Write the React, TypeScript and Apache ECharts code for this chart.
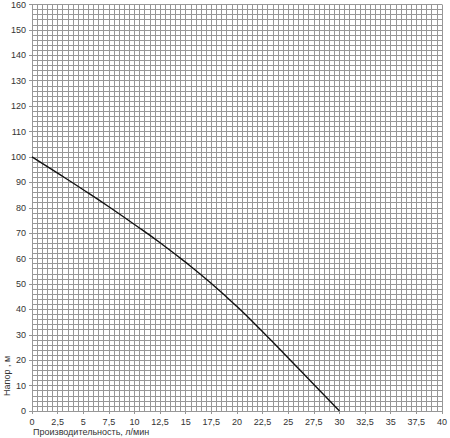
import React, { useEffect, useRef } from 'react'
import * as echarts from 'echarts'

// Pump curve: flow (l/min) vs head (m)
const flow = [0, 2.5, 5, 7.5, 10, 12.5, 15, 17.5, 20, 22.5, 25, 27.5, 30]
const head = [100, 93.6, 87.1, 80.4, 73.4, 66.2, 58.5, 50.2, 41.1, 31.2, 20.9, 10.4, 0]

const xLabel = 'Производительность, л/мин'
const yLabel = 'Напор , м'

const gridColor = '#979797'
const font = '"Liberation Sans", Arial, sans-serif'

const App: React.FC = () => {
  const chartRef = useRef<HTMLDivElement>(null)

  useEffect(() => {
    document.body.style.margin = '0'
    if (!chartRef.current) return
    const chart = echarts.init(chartRef.current, undefined, { renderer: 'svg' })

    const option: echarts.EChartsOption = {
      animation: false,
      backgroundColor: '#fff',
      grid: { left: 32, right: 3, top: 3, bottom: 27 },
      xAxis: {
        type: 'value',
        min: 0,
        max: 40,
        interval: 2.5,
        axisLine: { show: false },
        axisTick: { show: true, length: 3, lineStyle: { color: gridColor } },
        axisLabel: {
          color: '#333',
          fontSize: 9,
          fontFamily: font,
          margin: 6,
          formatter: (v: number) => String(v).replace('.', ','),
        },
        splitLine: { show: true, lineStyle: { color: gridColor, width: 1 } },
        minorTick: { show: false, splitNumber: 5 },
        minorSplitLine: { show: true, lineStyle: { color: gridColor, width: 1 } },
      },
      yAxis: {
        type: 'value',
        min: 0,
        max: 160,
        interval: 10,
        axisLine: { show: false },
        axisTick: { show: true, length: 3, lineStyle: { color: gridColor } },
        axisLabel: { color: '#333', fontSize: 9, fontFamily: font, margin: 6 },
        splitLine: { show: true, lineStyle: { color: gridColor, width: 1 } },
        minorTick: { show: false, splitNumber: 5 },
        minorSplitLine: { show: true, lineStyle: { color: gridColor, width: 1 } },
      },
      graphic: [
        {
          type: 'text',
          left: 33,
          top: 427,
          style: { text: xLabel, fill: '#333', fontSize: 9, fontFamily: font },
        },
        {
          type: 'text',
          x: 2,
          y: 396,
          rotation: Math.PI / 2,
          style: { text: yLabel, fill: '#333', fontSize: 9, fontFamily: font },
        },
      ],
      series: [
        {
          type: 'line',
          data: flow.map((f, i) => [f, head[i]]),
          smooth: 0.5,
          symbol: 'none',
          lineStyle: { color: '#111', width: 1.4 },
        },
      ],
    }

    chart.setOption(option)
    return () => chart.dispose()
  }, [])

  return <div ref={chartRef} style={{ width: 450, height: 438 }} />
}

export default App
